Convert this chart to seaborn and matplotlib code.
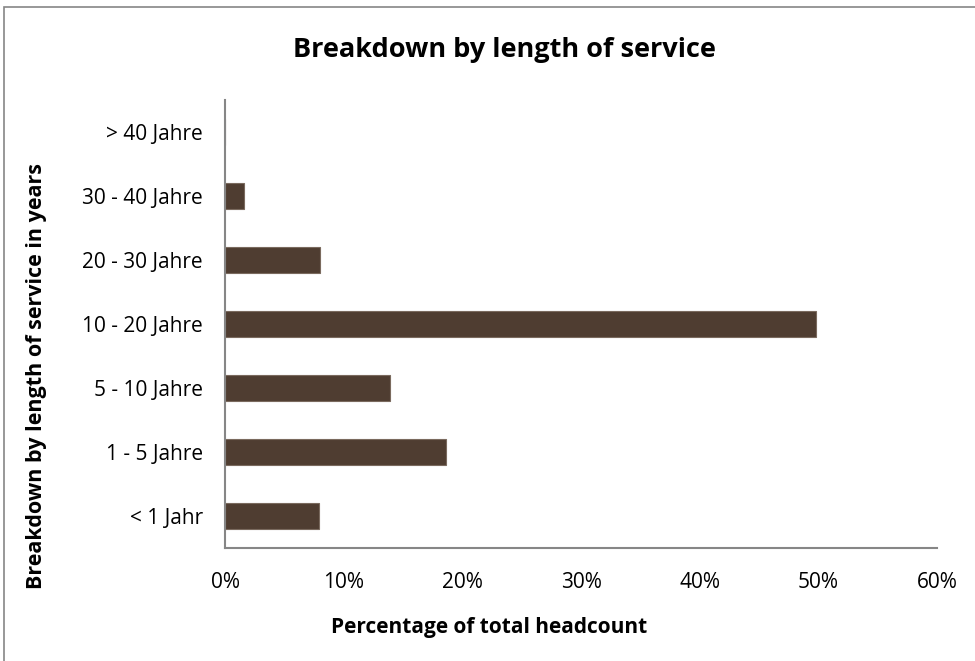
import matplotlib
matplotlib.use("Agg")
import matplotlib.pyplot as plt
import seaborn as sns
import pandas as pd
from matplotlib.patches import Rectangle
from matplotlib.ticker import PercentFormatter

categories = ["> 40 Jahre", "30 - 40 Jahre", "20 - 30 Jahre", "10 - 20 Jahre",
              "5 - 10 Jahre", "1 - 5 Jahre", "< 1 Jahr"]
values = [0.0, 1.6, 8.0, 49.8, 13.9, 18.6, 7.95]
xticks = [0, 10, 20, 30, 40, 50, 60]

df = pd.DataFrame({"cat": categories, "val": values})

sns.set_theme(style="white")
plt.rcParams['font.family'] = ['Open Sans', 'DejaVu Sans']
plt.rcParams['text.color'] = 'black'

fig = plt.figure(figsize=(9.75, 6.61), dpi=100)
ax = fig.add_axes([225/975, 1-548/661, (937-225)/975, (548-100)/661])

sns.barplot(data=df, x="val", y="cat", order=categories, color="#4F3D31",
            width=0.4, edgecolor="#7a6a5e", linewidth=0.8, saturation=1, ax=ax)

ax.set_xlim(0, 60)
ax.set_xticks(xticks)
ax.xaxis.set_major_formatter(PercentFormatter(decimals=0))
for s in ["top", "right"]:
    ax.spines[s].set_visible(False)
for s in ["left", "bottom"]:
    ax.spines[s].set_color("#868686")
    ax.spines[s].set_linewidth(1.5)
ax.tick_params(axis="both", length=0, labelsize=15, colors="black")
ax.tick_params(axis="y", pad=16)
ax.tick_params(axis="x", pad=17)
ax.set_xlabel("")
ax.set_ylabel("")

fig.text(504/975, 1-50/661, "Breakdown by length of service", ha="center", va="center",
         fontsize=19.5, fontweight="bold", color="black")
fig.text(37/975, 1-376/661, "Breakdown by length of service in years", ha="center", va="center",
         rotation=90, fontsize=15.5, fontweight="bold", color="black")
fig.text(489/975, 1-628/661, "Percentage of total headcount", ha="center", va="center",
         fontsize=15, fontweight="bold", color="black")

fig.patches.append(Rectangle((4/975, -0.1), 1.2, 1 - 7/661 + 0.1, transform=fig.transFigure,
                             fill=False, edgecolor="#868686", linewidth=1.2))

fig.savefig("out.png", dpi=100)
